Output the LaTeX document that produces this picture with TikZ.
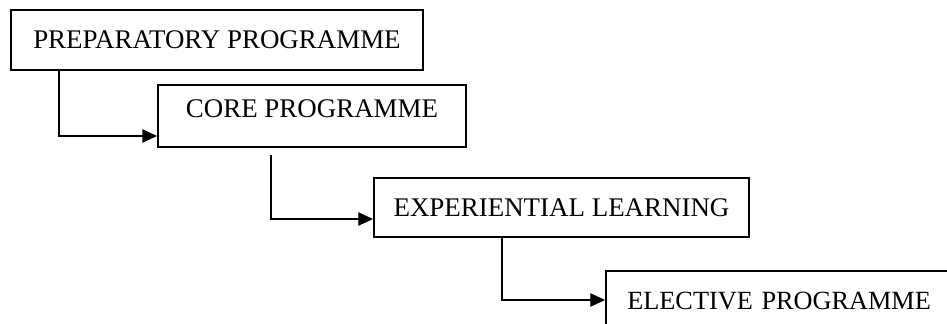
\documentclass[tikz,border=0pt]{standalone}
\usepackage{fontspec}
\setmainfont{Liberation Serif}
\usetikzlibrary{arrows.meta,calc}
\begin{document}
\begin{tikzpicture}[x=0.75pt,y=-0.75pt,
  box/.style={draw,line width=1.5pt,inner sep=0pt,anchor=center,
    font=\fontsize{20.2}{24}\selectfont},
  conn/.style={line width=0.9pt,-{Triangle[length=11pt,width=10pt]}}]
\useasboundingbox (0,0) rectangle (947,324);
\clip (0,0) rectangle (947,324);
\node[box,minimum width=309pt,minimum height=45pt] (b1) at (217,40) {PREPARATORY PROGRAMME};
\node[box,minimum width=231pt,minimum height=46.5pt,text depth=10.5pt] (b2) at (312,116) {CORE PROGRAMME};
\node[box,minimum width=281.25pt,minimum height=44.25pt] (b3) at (561.5,207.5) {EXPERIENTIAL LEARNING};
\node[box,anchor=west,minimum height=45pt,inner xsep=16pt,text width=268pt,align=left,font=\fontsize{19.7}{24}\selectfont] (b4) at (605,301) {ELECTIVE PROGRAMME};
\draw[conn] ($(b1.south west)+(49,0)$) |- ($(b2.south west)+(0,-12)$);
\draw[conn] ($(b2.south west)+(114,7)$) |- ($(b3.south west)+(0,-19)$);
\draw[conn] ($(b3.south west)+(129,0)$) |- ($(b4.west)+(0,-1)$);
\end{tikzpicture}
\end{document}
